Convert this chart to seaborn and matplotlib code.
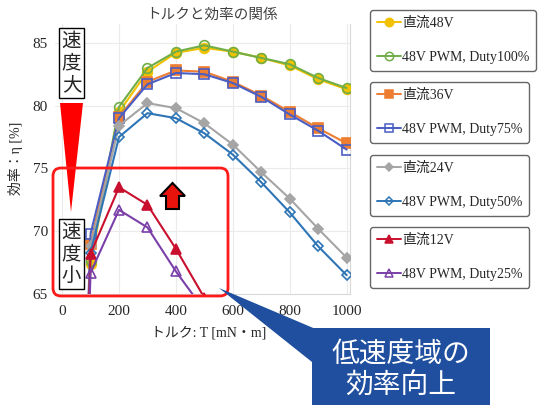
import numpy as np
import pandas as pd
import matplotlib
matplotlib.use('Agg')
import matplotlib.pyplot as plt
import seaborn as sns
from matplotlib.lines import Line2D
from matplotlib.patches import Polygon, FancyBboxPatch, Rectangle

# トルク [mN・m]
torque = [0, 100, 200, 300, 400, 500, 600, 700, 800, 900, 1000]
torque_low = [0, 100, 200, 300, 400, 500]

# 効率 [%]
dc48 = [0, 67.4, 79.5, 82.7, 84.2, 84.6, 84.3, 83.8, 83.2, 82.1, 81.3]
pwm100 = [0, 67.6, 79.9, 83.0, 84.3, 84.8, 84.3, 83.8, 83.3, 82.2, 81.4]
dc36 = [0, 69.0, 79.1, 81.9, 82.8, 82.7, 81.9, 80.8, 79.5, 78.2, 77.0]
pwm75 = [0, 69.8, 79.0, 81.7, 82.6, 82.5, 81.8, 80.7, 79.3, 78.0, 76.5]
dc24 = [0, 68.8, 78.4, 80.2, 79.8, 78.6, 76.9, 74.7, 72.6, 70.2, 67.9]
pwm50 = [0, 68.3, 77.5, 79.4, 79.0, 77.8, 76.1, 73.9, 71.5, 68.8, 66.5]
dc12 = [0, 68.2, 73.5, 72.1, 68.6, 64.7]
pwm25 = [0, 66.7, 71.7, 70.3, 66.8, 63.7]

labels = ['直流48V', '48V PWM, Duty100%', '直流36V', '48V PWM, Duty75%',
          '直流24V', '48V PWM, Duty50%', '直流12V', '48V PWM, Duty25%']

sns.set_style('white')
plt.rcParams['font.family'] = ['Liberation Serif', 'Noto Sans CJK JP']

W, H = 542, 412
fig = plt.figure(figsize=(W / 100, H / 100), dpi=100)

# 軸の位置 (ピクセル指定)
ax = fig.add_axes([55 / W, 118 / H, 295 / W, 270 / H])

# (データ, 色, マーカー, 塗りつぶし)
series = [
    (torque, dc48, '#F2C200', 'o', True),
    (torque, pwm100, '#70AD47', 'o', False),
    (torque, dc36, '#ED7D31', 's', True),
    (torque, pwm75, '#4A5EC4', 's', False),
    (torque, dc24, '#A5A5A5', 'D', True),
    (torque, pwm50, '#2E75B6', 'D', False),
    (torque_low, dc12, '#C8102E', '^', True),
    (torque_low, pwm25, '#7A3FA8', '^', False),
]

handles = []
for i, (x, y, c, m, filled) in enumerate(series):
    ms = 7 if m != 'D' else 5.5
    fc = c if filled else 'none'
    df = pd.DataFrame({'T': x, 'eta': y})
    sns.lineplot(data=df, x='T', y='eta', ax=ax, color=c, marker=m, markersize=ms,
                 markerfacecolor=fc, markeredgecolor=c, markeredgewidth=1.2,
                 linewidth=1.5, legend=False, zorder=3 + i * 0.1)
    handles.append(Line2D([], [], color=c, marker=m, markersize=ms - 1, markerfacecolor=fc,
                          markeredgecolor=c, markeredgewidth=1.1, linewidth=1.4))

ax.set_xlim(-25, 1012)
ax.set_ylim(65, 86.5)
ax.set_xticks([0, 200, 400, 600, 800, 1000])
ax.set_yticks([65, 70, 75, 80, 85])
ax.tick_params(axis='both', length=0, labelsize=11)
ax.tick_params(axis='x', pad=8)
ax.tick_params(axis='y', pad=5)
ax.grid(True, color='#ebebeb', linewidth=0.8)
ax.set_xlabel('')
ax.set_ylabel('')
for s in ['top', 'left']:
    ax.spines[s].set_visible(False)
for s in ['bottom', 'right']:
    ax.spines[s].set_color('#d9d9d9')
    ax.spines[s].set_linewidth(0.8)


def px(x, y):
    return (x / 100, (H - y) / 100)


# タイトルと軸ラベル
fig.text(212 / W, 1 - 15 / H, 'トルクと効率の関係', ha='center', va='center',
         fontsize=10.5, color='#404040', family='Noto Sans CJK JP')
fig.text(209 / W, 1 - 333 / H, 'トルク: T [mN・m]', ha='center', va='center', fontsize=10)
fig.text(16 / W, 1 - 158 / H, '効率：η [%]', ha='center', va='center', fontsize=10, rotation=90)

# 凡例 (4つの枠)
tops = [10, 82, 155, 227]
for k in range(4):
    leg = fig.legend(handles=handles[2 * k:2 * k + 2], labels=labels[2 * k:2 * k + 2],
                     loc='upper left', bbox_to_anchor=(370 / W, 1 - tops[k] / H),
                     fontsize=10, frameon=True, fancybox=True, edgecolor='#404040',
                     handlelength=1.7, handletextpad=0.1, labelspacing=1.5,
                     borderpad=0.5, borderaxespad=0)
    leg.get_frame().set_linewidth(1.0)

# 速度大 → 速度小 の赤い三角形
tri = Polygon([px(60, 103), px(83, 103), px(71, 212)], closed=True,
              facecolor='#FF0000', edgecolor='none', transform=fig.dpi_scale_trans, zorder=5)
fig.patches.append(tri)
fig.text(71.5 / W, 1 - 63 / H, '速\n度\n大', ha='center', va='center', fontsize=14,
         family='Noto Sans CJK JP', linespacing=1.05,
         bbox=dict(boxstyle='square,pad=0.12', facecolor='white', edgecolor='black', linewidth=1))
fig.text(71.5 / W, 1 - 254 / H, '速\n度\n小', ha='center', va='center', fontsize=14,
         family='Noto Sans CJK JP', linespacing=1.05,
         bbox=dict(boxstyle='square,pad=0.12', facecolor='white', edgecolor='black', linewidth=1))

# 赤い枠
box = FancyBboxPatch(px(53, 296), 175 / 100, 128 / 100,
                     boxstyle='round,pad=0,rounding_size=0.08', facecolor='none',
                     edgecolor='#FF1A1A', linewidth=2, transform=fig.dpi_scale_trans, zorder=6)
fig.patches.append(box)

# 上向き矢印
arrow = Polygon([px(172.5, 183), px(185, 196), px(179, 196), px(179, 209),
                 px(166, 209), px(166, 196), px(160, 196)], closed=True,
                facecolor='#E8140C', edgecolor='black', linewidth=1.5,
                transform=fig.dpi_scale_trans, zorder=6)
fig.patches.append(arrow)

# 吹き出し
blue = '#1F4F9E'
pointer = Polygon([px(219, 288), px(318, 330), px(312, 362)], closed=True,
                  facecolor=blue, edgecolor='none', transform=fig.dpi_scale_trans, zorder=6)
fig.patches.append(pointer)
callout = Rectangle(px(312, 405), 178 / 100, 77 / 100, facecolor=blue, edgecolor='none',
                    transform=fig.dpi_scale_trans, zorder=6)
fig.patches.append(callout)
fig.text(401 / W, 1 - 354 / H, '低速度域の', ha='center', va='center', fontsize=20,
         color='white', family='Noto Sans CJK JP', zorder=7)
fig.text(401 / W, 1 - 386 / H, '効率向上', ha='center', va='center', fontsize=20,
         color='white', family='Noto Sans CJK JP', zorder=7)

fig.savefig('out.png', dpi=100)
